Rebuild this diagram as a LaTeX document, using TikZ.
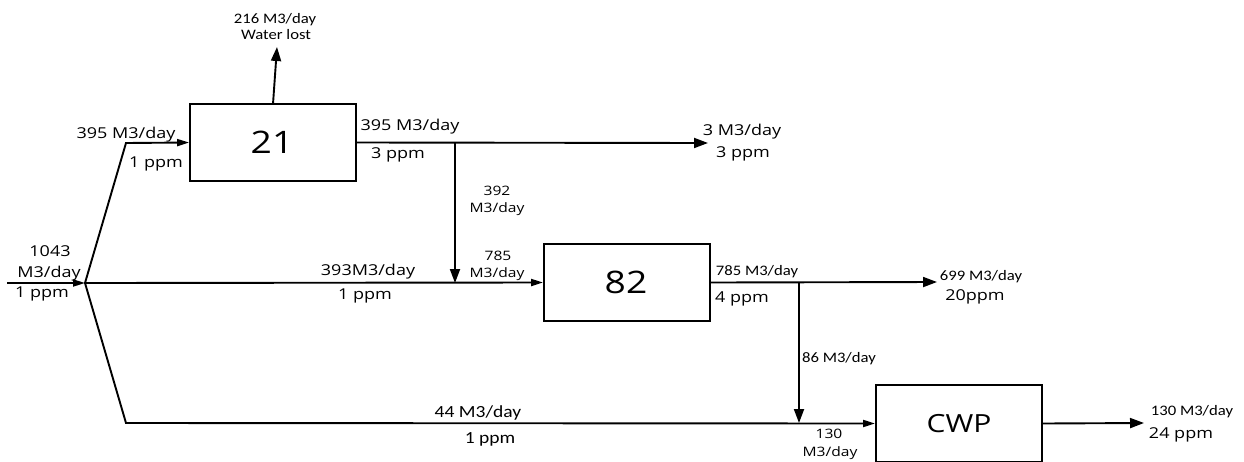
\documentclass[tikz,border=0pt]{standalone}
\usepackage{fontspec}
\usepackage{graphicx}
\usetikzlibrary{arrows.meta}
\newfontfamily\segf[FakeStretch=1.2]{Open Sans}
\newfontfamily\calf[FakeStretch=1.15]{Carlito}
\begin{document}
\begin{tikzpicture}[x=1pt,y=-1pt,
  box/.style={draw=black,line width=1.9pt,rectangle,inner sep=0pt,anchor=center},
  flow/.style={line width=1.9pt,draw=black},
  big/.style={flow,-{Triangle[length=14pt,width=10pt]}},
  small/.style={flow,-{Triangle[length=12pt,width=7pt]}},
  sg/.style={font=\segf\fontsize{15}{17}\selectfont,inner sep=0pt,anchor=base},
  sgs/.style={font=\segf\fontsize{13}{15}\selectfont,inner sep=0pt,anchor=base},
  cl/.style={font=\calf\fontsize{14.5}{16}\selectfont,inner sep=0pt,anchor=base},
  clb/.style={font=\calf\fontsize{17}{19}\selectfont,inner sep=0pt,anchor=base},
  bigtxt/.style={font=\segf\fontsize{31}{33}\selectfont,inner sep=0pt,anchor=base},
]
\useasboundingbox (0,0) rectangle (1244,461);

% boxes
\node[box,minimum width=166pt,minimum height=77pt] (b21) at (273,142.5) {};
\node[box,minimum width=166pt,minimum height=77pt] (b82) at (627,282.5) {};
\node[box,minimum width=166pt,minimum height=77pt] (cwp) at (959,423.5) {};
\node[bigtxt] (t21) at (272,153) {21};
\node[bigtxt] (t82) at (626,293) {82};
\node[bigtxt,font=\segf\fontsize{25}{27}\selectfont] (tcwp) at (959,432) {CWP};

% coordinates
\coordinate (in) at (7,283);
\coordinate (sp) at (85,283);
\coordinate (c1) at (126,143);
\coordinate (c2) at (126,423);
\coordinate (wlb) at (273,104);
\coordinate (wl) at (277,47);
\coordinate (j2) at (455,143);
\coordinate (j1) at (455,283);
\coordinate (o1) at (708,143);
\coordinate (j3) at (799,282);
\coordinate (j4) at (799,423);
\coordinate (o2) at (937,282);
\coordinate (o3) at (1144,423);

% connectors
\draw[small] (in) -- (sp);
\draw[small] (sp) -- (c1) -- (b21.west);
\draw[small] (sp) -- (b82.west);
\draw[small] (sp) -- (c2) -- (cwp.west);
\draw[big] (wlb) -- (wl);
\draw[big] (b21.east) -- (o1);
\draw[big] (j2) -- (j1);
\draw[big] (b82.east) -- (o2);
\draw[big] (j3) -- (j4);
\draw[big] (cwp.east) -- (o3);

% labels
\node[cl] (l1) at (275,23) {216 M3/day};
\node[cl] (l2) at (276,39.5) {Water lost};
\node[sg] (l3) at (126,138) {395 M3/day};
\node[sg] (l4) at (156,167) {1 ppm};
\node[sg] (l5) at (50,256) {1043};
\node[sg] (l6) at (49,277) {M3/day};
\node[sg] (l7) at (42,297) {1 ppm};
\node[sg] (l8) at (368,275) {393M3/day};
\node[sg] (l9) at (365,299) {1 ppm};
\node[sg] (l10) at (410,130) {395 M3/day};
\node[sg] (l11) at (398,158) {3 ppm};
\node[sg] (l12) at (742,135) {3 M3/day};
\node[sg] (l13) at (743,157) {3 ppm};
\node[sgs] (l14) at (497,195) {392};
\node[sgs] (l15) at (497,212) {M3/day};
\node[sgs] (l16) at (498,260) {785};
\node[sgs] (l17) at (497,277) {M3/day};
\node[cl] (l18) at (757,275) {785 M3/day};
\node[sg] (l19) at (742,302) {4 ppm};
\node[cl] (l20) at (981,280) {699 M3/day};
\node[sg] (l21) at (975,300) {20ppm};
\node[cl] (l22) at (839,362) {86 M3/day};
\node[clb] (l23) at (478,417) {44 M3/day};
\node[clb] (l24) at (490,443) {1 ppm};
\node[sgs] (l25) at (829,438) {130};
\node[sgs] (l26) at (830,456) {M3/day};
\node[cl] (l27) at (1192,415) {130 M3/day};
\node[sg] (l28) at (1181,438) {24 ppm};
\end{tikzpicture}
\end{document}
